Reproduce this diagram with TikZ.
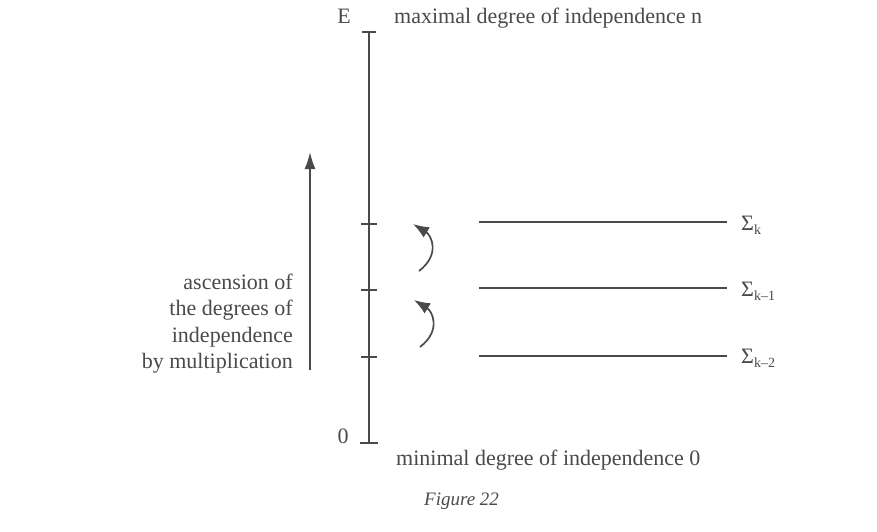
\documentclass[tikz,border=0pt]{standalone}
\usepackage{fontspec}
\setmainfont{Liberation Serif}
\usetikzlibrary{arrows.meta}
\definecolor{ink}{HTML}{4A4A4A}
\begin{document}
\begin{tikzpicture}[x=1pt,y=-1pt,
  txt/.style={text=ink,inner sep=0pt,font=\fontsize{22}{26}\selectfont},
  figcaption/.style={text=ink,inner sep=0pt,font=\fontsize{19}{22}\selectfont\itshape},
  axis/.style={draw=ink,line width=1.8pt},
  level/.style={draw=ink,line width=1.4pt},
  curv/.style={draw=ink,line width=1.7pt,-{Latex[length=16pt,width=12pt]}},
  up/.style={draw=ink,line width=1.6pt,-{Latex[length=17pt,width=11pt]}}]
\useasboundingbox[fill=white] (0,0) rectangle (877,531);
% axis
\coordinate (top) at (369,32);
\coordinate (bot) at (369,443);
\draw[axis] (top) -- (bot);
\draw[axis] ([xshift=-7pt]top) -- ([xshift=7pt]top);
\draw[axis] ([xshift=-9pt]bot) -- ([xshift=9pt]bot);
\foreach \n/\y in {t1/224,t2/290,t3/357}{
  \coordinate (\n) at (369,\y);
  \draw[axis] ([xshift=-8pt]\n) -- ([xshift=8pt]\n);
}
% end labels
\node[txt,anchor=base] (E) at (344,23) {E};
\node[txt,anchor=base west] (max) at (394,23) {maximal degree of independence n};
\node[txt,anchor=base] (zero) at (343,443) {0};
\node[txt,anchor=base west] (min) at (396,465) {minimal degree of independence 0};
\node[figcaption,anchor=base west] (fig) at (424,505) {Figure 22};
% levels
\node[txt,anchor=base west] (S0) at (741,230) {Σ{\fontsize{14}{14}\selectfont\raisebox{-4pt}{k}}};
\node[txt,anchor=base west] (S1) at (741,296) {Σ{\fontsize{14}{14}\selectfont\raisebox{-4pt}{k–1}}};
\node[txt,anchor=base west] (S2) at (741,363) {Σ{\fontsize{14}{14}\selectfont\raisebox{-4pt}{k–2}}};
\coordinate (L0a) at (479,222); \coordinate (L0b) at (727,222);
\coordinate (L1a) at (479,288); \coordinate (L1b) at (727,288);
\coordinate (L2a) at (479,356); \coordinate (L2b) at (727,356);
\draw[level] (L0a) -- (L0b);
\draw[level] (L1a) -- (L1b);
\draw[level] (L2a) -- (L2b);
% curved arrows
\coordinate (c1s) at (419,271); \coordinate (c1e) at (413,224);
\coordinate (c2s) at (420,347); \coordinate (c2e) at (414,300);
\draw[curv] (c1s) .. controls ([xshift=22pt,yshift=17pt]c1s) and ([xshift=18pt,yshift=-11pt]c1e) .. (c1e);
\draw[curv] (c2s) .. controls ([xshift=22pt,yshift=17pt]c2s) and ([xshift=18pt,yshift=-11pt]c2e) .. (c2e);
% ascension arrow
\coordinate (as) at (310,370); \coordinate (ae) at (310,152);
\draw[up] (as) -- (ae);
\node[txt,anchor=base east] (l1) at (293,289) {ascension of};
\node[txt,anchor=base east] (l2) at (293,315.5) {the degrees of};
\node[txt,anchor=base east] (l3) at (293,342) {independence};
\node[txt,anchor=base east] (l4) at (293,368.5) {by multiplication};
\end{tikzpicture}
\end{document}
